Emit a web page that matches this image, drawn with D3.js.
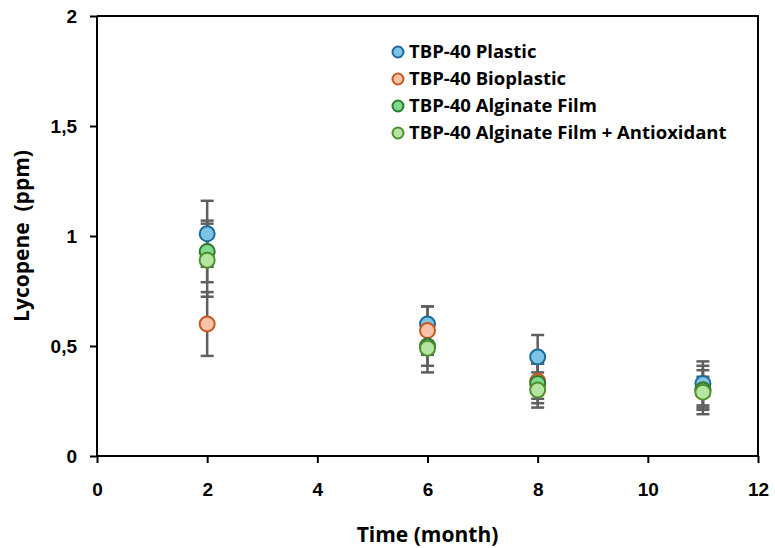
<!DOCTYPE html>
<html>
<head>
<meta charset="utf-8">
<script src="https://cdn.jsdelivr.net/npm/d3@7"></script>
<style>
  body { margin: 0; background: #fff; }
  svg { display: block; font-family: "Open Sans", "Liberation Sans", Arial, sans-serif; }
</style>
</head>
<body>
<svg></svg>
<script>
// values
const months = [2, 6, 8, 11];
const seriesNames = [
  "TBP-40 Plastic",
  "TBP-40 Bioplastic",
  "TBP-40 Alginate Film",
  "TBP-40 Alginate Film + Antioxidant",
];
const plasticMean = [1.01, 0.60, 0.45, 0.33];
const plasticErr = [0.15, 0.08, 0.10, 0.10];
const bioMean = [0.60, 0.57, 0.34, 0.30];
const bioErr = [0.145, 0.11, 0.08, 0.11];
const alginateMean = [0.93, 0.50, 0.33, 0.30];
const alginateErr = [0.14, 0.09, 0.09, 0.09];
const antioxMean = [0.89, 0.49, 0.30, 0.29];
const antioxErr = [0.166, 0.11, 0.08, 0.07];
const xTicks = [0, 2, 4, 6, 8, 10, 12];
const yTicks = [0, 0.5, 1, 1.5, 2];

const fills = ["#7cc3e6", "#f5c3a8", "#7fd98c", "#b6e4a2"];
const strokes = ["#1d6b99", "#c9561c", "#2c7a2f", "#4f8f2c"];

const width = 775;
const height = 548;
const margin = { left: 97, right: 17, top: 16, bottom: 92 };
const svg = d3.select("svg").attr("width", width).attr("height", height);

const means = [plasticMean, bioMean, alginateMean, antioxMean];
const errs = [plasticErr, bioErr, alginateErr, antioxErr];
const series = seriesNames.map((name, i) => ({
  name: name,
  fill: fills[i],
  stroke: strokes[i],
  points: months.map((m, j) => ({ x: m, y: means[i][j], e: errs[i][j] })),
}));

const xScale = d3.scaleLinear().domain([0, 12]).range([margin.left, width - margin.right]);
const yScale = d3.scaleLinear().domain([0, 2]).range([height - margin.bottom, margin.top]);

// plot area border (top and right)
svg.append("path")
  .attr("d", `M${xScale(0)},${yScale(2)}H${xScale(12)}V${yScale(0)}`)
  .attr("fill", "none")
  .attr("stroke", "#000")
  .attr("stroke-width", 2);

// axes
const xAxis = d3.axisBottom(xScale).tickValues(xTicks).tickSize(7).tickFormat(d3.format("d"));
const yAxis = d3.axisLeft(yScale).tickValues(yTicks).tickSize(7)
  .tickFormat((d) => String(d).replace(".", ","));

const gx = svg.append("g")
  .attr("transform", "translate(0," + yScale(0) + ")")
  .call(xAxis);
const gy = svg.append("g")
  .attr("transform", "translate(" + xScale(0) + ",0)")
  .call(yAxis);

[gx, gy].forEach((g) => {
  g.select(".domain").attr("stroke", "#000").attr("stroke-width", 2);
  g.selectAll(".tick line").attr("stroke", "#000").attr("stroke-width", 2);
  g.selectAll(".tick text")
    .attr("fill", "#000")
    .attr("font-size", 19)
    .attr("font-weight", "bold")
    .attr("font-family", "'Liberation Sans', Arial, sans-serif");
});
gx.select(".domain").attr("d", `M${xScale(0)},0H${xScale(12)}`);
gy.select(".domain").attr("d", `M0,${yScale(0)}V${yScale(2)}`);
gx.selectAll(".tick text").attr("y", 27);
gy.selectAll(".tick text").attr("x", -20);

// axis titles
svg.append("text")
  .attr("x", (xScale(0) + xScale(12)) / 2)
  .attr("y", 542)
  .attr("text-anchor", "middle")
  .attr("font-size", 21)
  .attr("font-weight", "bold")
  .text("Time (month)");

svg.append("text")
  .attr("transform", "translate(29," + yScale(1) + ") rotate(-90)")
  .attr("text-anchor", "middle")
  .attr("font-size", 21)
  .attr("font-weight", "bold")
  .style("white-space", "pre")
  .text("Lycopene  (ppm)");

// error bars
const capW = 6.5;
series.forEach((s) => {
  const g = svg.append("g").attr("stroke", "#5f5f5f").attr("stroke-width", 2.5);
  s.points.forEach((p) => {
    const cx = xScale(p.x);
    const y1 = yScale(p.y + p.e);
    const y0 = yScale(p.y - p.e);
    g.append("line").attr("x1", cx).attr("x2", cx).attr("y1", y1).attr("y2", y0);
    g.append("line").attr("x1", cx - capW).attr("x2", cx + capW).attr("y1", y1).attr("y2", y1);
    g.append("line").attr("x1", cx - capW).attr("x2", cx + capW).attr("y1", y0).attr("y2", y0);
  });
});

// markers
series.forEach((s) => {
  svg.append("g")
    .selectAll("circle")
    .data(s.points)
    .enter()
    .append("circle")
    .attr("cx", (d) => xScale(d.x))
    .attr("cy", (d) => yScale(d.y))
    .attr("r", 7.5)
    .attr("fill", s.fill)
    .attr("stroke", s.stroke)
    .attr("stroke-width", 2);
});

// legend
const legend = svg.append("g").attr("transform", "translate(398,51)");
series.forEach((s, i) => {
  const row = legend.append("g").attr("transform", "translate(0," + i * 27 + ")");
  row.append("circle")
    .attr("r", 5.5)
    .attr("cy", 1)
    .attr("fill", s.fill)
    .attr("stroke", s.stroke)
    .attr("stroke-width", 2);
  row.append("text")
    .attr("x", 11)
    .attr("y", 7)
    .attr("font-size", 18.5)
    .attr("font-weight", "bold")
    .attr("fill", "#000")
    .text(s.name);
});
</script>
</body>
</html>
